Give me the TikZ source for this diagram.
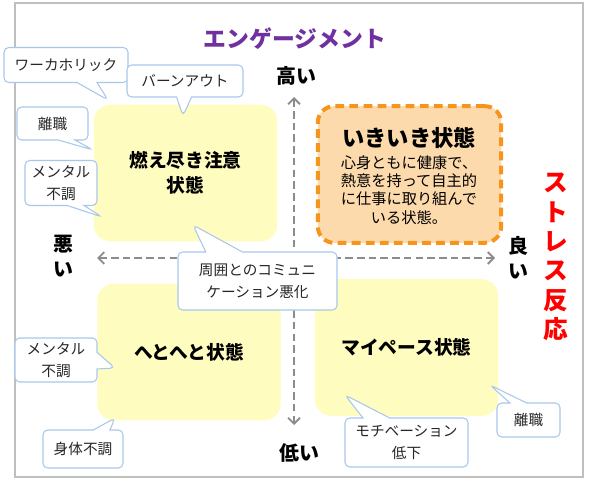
\documentclass[tikz,border=0pt]{standalone}
\usepackage{fontspec}
\setmainfont{Noto Sans CJK JP}
\usetikzlibrary{shapes.callouts, arrows.meta}

\definecolor{zoneyellow}{HTML}{FFFCC0}
\definecolor{genkifill}{HTML}{FDDAAC}
\definecolor{genkiline}{HTML}{F7941D}
\definecolor{tagblue}{HTML}{A8C8EA}
\definecolor{axisgray}{HTML}{8C8C8C}
\definecolor{framegray}{HTML}{BFBFBF}
\definecolor{titlepurple}{HTML}{7030A0}

\begin{document}
\begin{tikzpicture}[x=0.03cm, y=-0.03cm,
  zone/.style  = {fill=zoneyellow, rounded corners=14pt, inner sep=0pt,
                  minimum width=5.5cm, minimum height=4.1cm, align=center,
                  font=\bfseries\fontsize{16}{21}\selectfont},
  tag/.style   = {rectangle callout, draw=tagblue, fill=white, line width=0.9pt,
                  rounded corners=4pt, inner sep=0pt, align=center,
                  callout pointer width=0.6cm, text=black!85,
                  font=\fontsize{12.5}{19}\selectfont},
  axis/.style  = {{Straight Barb[length=5pt,width=10pt]}-{Straight Barb[length=5pt,width=10pt]},
                  axisgray, line width=1.6pt, dash pattern=on 6.5pt off 3.5pt},
  lbl/.style   = {inner sep=0pt, align=center, font=\bfseries\fontsize{17}{21}\selectfont},
]
\useasboundingbox (0,0) rectangle (590,484);

% frame
\draw[framegray, line width=1.4pt] (15,3) rectangle (583,477);

% quadrants
\node[zone] (burn) at (185.5,173) {燃え尽き注意\\状態};
\node[zone, draw=genkiline, fill=genkifill, line width=3.4pt,
      dash pattern=on 7.5pt off 4.5pt, minimum height=4.1cm] (genki) at (409.5,174.5) {};
\node[zone] (heto) at (189,352) {へとへと状態};
\node[zone] (mypace) at (406.5,347.5) {マイペース状態};

\node[inner sep=0pt, font=\bfseries\fontsize{19}{22}\selectfont] (genkititle) at (409,138) {いきいき状態};
\node[inner sep=0pt, align=center, font=\fontsize{13}{15.6}\selectfont] (genkibody) at (409,190)
  {心身ともに健康で、\\熱意を持って自主的\\に仕事に取り組んで\\いる状態。};

% axes
\coordinate (axtop) at (294,97);
\coordinate (axbottom) at (294,425);
\coordinate (axleft) at (97,258);
\coordinate (axright) at (495,258);
\draw[axis] (axtop) -- (axbottom);
\draw[axis] (axleft) -- (axright);

% axis labels
\node[font=\bfseries\fontsize{19.5}{22}\selectfont, text=titlepurple, inner sep=0pt] (title) at (295,39) {エンゲージメント};
\node[lbl] (high) at (296,76) {高い};
\node[lbl] (low) at (299,453) {低い};
\node[lbl] (bad) at (63,256) {悪\\い};
\node[lbl] (good) at (518,258) {良\\い};
\node[lbl, text=red, font=\bfseries\fontsize{21}{25}\selectfont] (stress) at (556,257) {ス\\ト\\レ\\ス\\反\\応};

% callouts
\node[tag, minimum width=3.72cm, minimum height=1.05cm, callout absolute pointer={(108,100)}] (worka) at (66,65) {ワーカホリック};
\node[tag, minimum width=3.48cm, minimum height=0.96cm, callout pointer width=0.45cm, callout absolute pointer={(183,116)}] (burnout) at (185,81) {バーンアウト};
\node[tag, minimum width=2.13cm, minimum height=0.99cm, callout pointer width=0.5cm, callout absolute pointer={(93,150)}] (quit1) at (52.5,123.5) {離職};
\node[tag, minimum width=2.16cm, minimum height=1.35cm, callout pointer width=0.5cm, callout absolute pointer={(102,217)}] (mental1) at (61,183) {メンタル\\不調};
\node[tag, minimum width=4.77cm, minimum height=1.74cm, callout pointer width=1.1cm, callout absolute pointer={(193,225)}] (comm) at (257.5,281) {周囲とのコミュニ\\ケーション悪化};
\node[tag, minimum width=2.46cm, minimum height=1.32cm, callout pointer width=0.5cm, callout absolute pointer={(115,368)}] (mental2) at (56,360) {メンタル\\不調};
\node[tag, minimum width=2.4cm, minimum height=1.14cm, callout pointer width=0.5cm, callout absolute pointer={(115,418)}] (body) at (83,449) {身体不調};
\node[tag, minimum width=3.69cm, minimum height=1.47cm, callout pointer width=0.8cm, callout absolute pointer={(345,395)}] (motiv) at (406.5,442.5) {モチベーション\\低下};
\node[tag, minimum width=1.89cm, minimum height=1.02cm, callout pointer width=0.5cm, callout absolute pointer={(490,385)}] (quit2) at (528.5,420) {離職};
\end{tikzpicture}
\end{document}
